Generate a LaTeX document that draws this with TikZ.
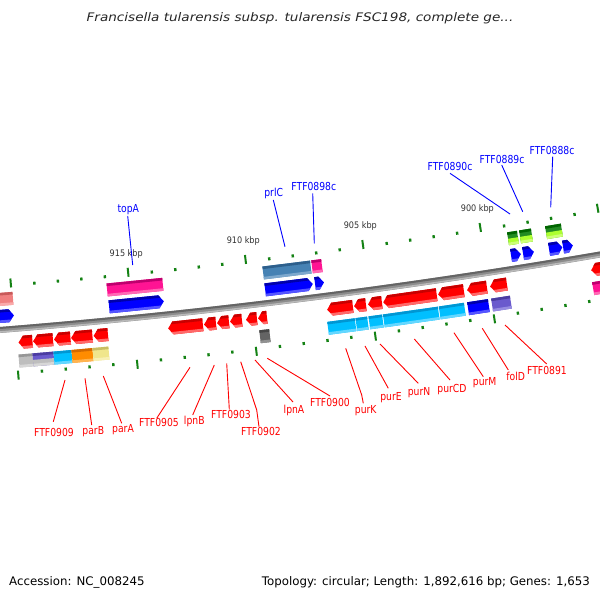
\documentclass[tikz,border=0pt]{standalone}
\usepackage{fontspec}
\setmainfont{DejaVu Sans}
\newfontfamily\labfont[FakeStretch=0.84]{DejaVu Sans}
\newfontfamily\kbpfont[FakeStretch=0.9]{DejaVu Sans}
\newfontfamily\titfont[FakeStretch=1.15]{DejaVu Sans}
\definecolor{crM}{RGB}{255,0,0}\definecolor{crD}{RGB}{200,0,0}\definecolor{crL}{RGB}{255,105,105}
\definecolor{cbM}{RGB}{0,0,255}\definecolor{cbD}{RGB}{0,0,170}\definecolor{cbL}{RGB}{85,85,255}
\definecolor{cpM}{RGB}{255,20,147}\definecolor{cpD}{RGB}{190,0,110}\definecolor{cpL}{RGB}{255,105,180}
\definecolor{csM}{RGB}{70,130,180}\definecolor{csD}{RGB}{45,95,140}\definecolor{csL}{RGB}{125,168,205}
\definecolor{cgtM}{RGB}{34,139,34}\definecolor{cgtD}{RGB}{0,100,0}\definecolor{cgtL}{RGB}{80,160,60}
\definecolor{cgbM}{RGB}{173,255,47}\definecolor{cgbD}{RGB}{140,210,40}\definecolor{cgbL}{RGB}{205,255,120}
\definecolor{cyM}{RGB}{0,191,255}\definecolor{cyD}{RGB}{0,150,210}\definecolor{cyL}{RGB}{100,215,255}
\definecolor{coM}{RGB}{255,140,0}\definecolor{coD}{RGB}{210,105,0}\definecolor{coL}{RGB}{255,180,80}
\definecolor{ckM}{RGB}{240,230,140}\definecolor{ckD}{RGB}{200,190,100}\definecolor{ckL}{RGB}{248,240,180}
\definecolor{cvM}{RGB}{106,90,205}\definecolor{cvD}{RGB}{75,60,160}\definecolor{cvL}{RGB}{150,140,225}
\definecolor{cgM}{RGB}{190,190,190}\definecolor{cgD}{RGB}{150,150,150}\definecolor{cgL}{RGB}{215,215,215}
\definecolor{cdgM}{RGB}{100,100,100}\definecolor{cdgD}{RGB}{70,70,70}\definecolor{cdgL}{RGB}{145,145,145}
\definecolor{csalM}{RGB}{240,128,128}\definecolor{csalD}{RGB}{200,90,90}\definecolor{csalL}{RGB}{250,170,170}
\definecolor{tickc}{RGB}{20,130,20}
\definecolor{labred}{RGB}{255,0,0}
\definecolor{labblue}{RGB}{0,0,255}
\definecolor{kbpgray}{RGB}{50,50,50}
\definecolor{bbM}{RGB}{140,140,140}\definecolor{bbD}{RGB}{100,100,100}\definecolor{bbL}{RGB}{185,185,185}
% feature: x1, x2, offset, type (0 box,1 fwd,2 rev,3 split box), colour, lower colour
\newcommand\feat[6]{%
 \pgfmathsetmacro\fxc{(#1+#2)/2}%
 \pgfmathsetmacro\fth{atan(0.08+0.00015*\fxc)}%
 \pgfmathsetmacro\fs{\fxc+(#3)*sin(\fth)}%
 \pgfmathsetmacro\fth{atan(0.08+0.00015*\fs)}%
 \pgfmathsetmacro\fY{270+0.08*\fs+0.000075*\fs*\fs}%
 \pgfmathsetmacro\fw{(#2-#1)/2}%
 \pgfmathsetmacro\fa{min(5,\fw*1.2)}%
 \pgfmathsetmacro\fva{#3-6.5}\pgfmathsetmacro\fvb{#3+6.5}%
 \pgfmathsetmacro\fvd{#3+3.9}\pgfmathsetmacro\fvl{#3-3.9}%
 \begin{scope}[shift={(\fs,\fY)},rotate=\fth]
  \ifcase #4\relax
   \clip (-\fw,\fva) rectangle (\fw,\fvb);
  \or
   \clip (-\fw,\fva) -- (\fw-\fa,\fva) -- (\fw,#3) -- (\fw-\fa,\fvb) -- (-\fw,\fvb) -- cycle;
  \or
   \clip (\fw,\fva) -- (-\fw+\fa,\fva) -- (-\fw,#3) -- (-\fw+\fa,\fvb) -- (\fw,\fvb) -- cycle;
  \or
   \clip (-\fw,\fva) rectangle (\fw,\fvb);
  \fi
  \fill[#5M] (-\fw-1,\fva-1) rectangle (\fw+1,\fvb+1);
  \ifnum #4=3\relax
   \fill[#6M] (-\fw-1,\fva-1) rectangle (\fw+1,#3);
   \fill[#6L] (-\fw-1,\fva-1) rectangle (\fw+1,\fvl);
  \else
   \fill[#5L] (-\fw-1,\fva-1) rectangle (\fw+1,\fvl);
  \fi
  \fill[#5D] (-\fw-1,\fvd) rectangle (\fw+1,\fvb+1);
 \end{scope}}
\tikzset{
 glabel/.style={font=\labfont\fontsize{11}{12}\selectfont, text height=8pt, text depth=0pt, inner sep=0pt, anchor=center},
 redlab/.style={glabel, text=labred},
 bluelab/.style={glabel, text=labblue},
 redcon/.style={draw=labred, line width=0.9pt},
 bluecon/.style={draw=labblue, line width=0.9pt},
 kbp/.style={font=\kbpfont\fontsize{9}{10}\selectfont, text=kbpgray, inner sep=0pt, text height=6.5pt, text depth=0pt},
 foot/.style={font=\fontsize{11.8}{13}\selectfont, text=black, inner sep=0pt, text height=8.5pt, text depth=0pt},
}
\begin{document}
\begin{tikzpicture}[x=1pt,y=1pt]
\useasboundingbox (0,0) rectangle (600,600);
\fill[white] (0,0) rectangle (600,600);
\clip (0,0) rectangle (600,600);
% backbone
\draw[line width=6pt, bbM] plot[domain=-20:620,samples=60] (\x,{270+0.08*\x+0.000075*\x*\x});
\draw[line width=2pt, bbD] plot[domain=-20:620,samples=60] (\x,{272+0.08*\x+0.000075*\x*\x});
\draw[line width=1.6pt, bbL] plot[domain=-20:620,samples=60] (\x,{268+0.08*\x+0.000075*\x*\x});
% ticks
\foreach \k in {0,...,25}{%
  \pgfmathsetmacro\ts{14.5+23.64*\k}%
  \pgfmathsetmacro\tth{atan(0.08+0.00015*\ts)}%
  \pgfmathsetmacro\tY{270+0.08*\ts+0.000075*\ts*\ts}%
  \pgfmathtruncatemacro\tm{mod(\k,5)}%
  \begin{scope}[shift={(\ts,\tY)},rotate=\tth]
    \ifnum\tm=0
      \fill[tickc] (-1,41.5) rectangle (1,50.5);
      \fill[tickc] (-1,-42) rectangle (1,-51);
    \else
      \fill[tickc] (-1.2,42.3) rectangle (1.2,45.3);
      \fill[tickc] (-1.2,-43) rectangle (1.2,-46);
    \fi
  \end{scope}}
\foreach \k/\lab in {5/915,10/910,15/905,20/900}{%
  \pgfmathsetmacro\ts{14.5+23.64*\k}%
  \pgfmathsetmacro\tth{atan(0.08+0.00015*\ts)}%
  \pgfmathsetmacro\tY{270+0.08*\ts+0.000075*\ts*\ts}%
  \node[kbp] (kbp\lab) at ({\ts-65*sin(\tth)},{\tY+65*cos(\tth)}) {\lab{} kbp};}
% forward strand CDS (blue arrows)
\feat{-10}{14}{13.5}{1}{cb}{cb}
\feat{109}{164}{13.5}{1}{cb}{cb}
\feat{265}{313}{13.5}{1}{cb}{cb}
\feat{315}{324}{13.5}{1}{cb}{cb}
\feat{511}{521}{13.5}{1}{cb}{cb}
\feat{523}{534}{13.5}{1}{cb}{cb}
\feat{549}{562.5}{13.5}{1}{cb}{cb}
\feat{563}{573}{13.5}{1}{cb}{cb}
% forward strand COG boxes
\feat{-10}{13}{30.5}{0}{csal}{csal}
\feat{107}{163}{30.5}{0}{cp}{cp}
\feat{263}{311}{30.5}{0}{cs}{cs}
\feat{312}{322}{30.5}{0}{cp}{cp}
\feat{508}{518}{30.5}{3}{cgt}{cgb}
\feat{520}{532}{30.5}{3}{cgt}{cgb}
\feat{546}{562}{30.5}{3}{cgt}{cgb}
% reverse strand CDS (red arrows)
\feat{18.5}{32.5}{-14}{2}{cr}{cr}
\feat{33}{53}{-14}{2}{cr}{cr}
\feat{54}{70.5}{-14}{2}{cr}{cr}
\feat{71}{92.5}{-14}{2}{cr}{cr}
\feat{93.5}{108}{-14}{2}{cr}{cr}
\feat{168}{203}{-14}{2}{cr}{cr}
\feat{204}{216}{-14}{2}{cr}{cr}
\feat{217}{229}{-14}{2}{cr}{cr}
\feat{230}{242}{-14}{2}{cr}{cr}
\feat{246}{257}{-14}{2}{cr}{cr}
\feat{258}{267}{-14}{2}{cr}{cr}
\feat{327}{353}{-14}{2}{cr}{cr}
\feat{354}{366}{-14}{2}{cr}{cr}
\feat{368}{382}{-14}{2}{cr}{cr}
\feat{383}{437}{-14}{2}{cr}{cr}
\feat{438}{464}{-14}{2}{cr}{cr}
\feat{467}{487}{-14}{2}{cr}{cr}
\feat{490}{507}{-14}{2}{cr}{cr}
\feat{591}{620}{-14}{2}{cr}{cr}
% reverse strand COG boxes
\feat{19}{33}{-32.5}{0}{cg}{cg}
\feat{33}{54}{-32.5}{3}{cv}{cg}
\feat{54}{72}{-32.5}{0}{cy}{cy}
\feat{72}{93}{-32.5}{0}{co}{co}
\feat{93}{109}{-32.5}{0}{ck}{ck}
\feat{260}{270}{-32.5}{0}{cdg}{cdg}
\feat{328}{355.7}{-32.5}{0}{cy}{cy}
\feat{356.3}{368}{-32.5}{0}{cy}{cy}
\feat{369.3}{383}{-32.5}{0}{cy}{cy}
\feat{383.6}{439}{-32.5}{0}{cy}{cy}
\feat{439.6}{465}{-32.5}{0}{cy}{cy}
\feat{468}{489}{-32.5}{0}{cb}{cb}
\feat{492}{511}{-32.5}{0}{cv}{cv}
\feat{593}{620}{-32.5}{0}{cp}{cp}
% lower labels
\node[redlab] (lFTF0909) at (54,167.3) {FTF0909};
\node[redlab] (lparB) at (93.3,169) {parB};
\node[redlab] (lparA) at (123,171.7) {parA};
\node[redlab] (lFTF0905) at (159,177.3) {FTF0905};
\node[redlab] (llpnB) at (194.3,179) {lpnB};
\node[redlab] (lFTF0903) at (231,185) {FTF0903};
\node[redlab] (lFTF0902) at (261,168.3) {FTF0902};
\node[redlab] (llpnA) at (294,190.7) {lpnA};
\node[redlab] (lFTF0900) at (330,197.3) {FTF0900};
\node[redlab] (lpurK) at (365.7,190) {purK};
\node[redlab] (lpurE) at (391,203.3) {purE};
\node[redlab] (lpurN) at (419,208.3) {purN};
\node[redlab] (lpurCD) at (452,211.7) {purCD};
\node[redlab] (lpurM) at (484.7,218.3) {purM};
\node[redlab] (lfolD) at (515.7,223.3) {folD};
\node[redlab] (lFTF0891) at (547,229) {FTF0891};
\coordinate (s1) at (65,220);      \coordinate (e1) at (53.3,178.3);
\coordinate (s2) at (85,221.7);    \coordinate (e2) at (91.7,175);
\coordinate (s3) at (103.3,224);   \coordinate (e3) at (121.7,176.7);
\coordinate (s4) at (190,232.7);   \coordinate (e4) at (156.7,181.7);
\coordinate (s5) at (214.3,235);   \coordinate (e5) at (192.7,185);
\coordinate (s6) at (226.7,236.7); \coordinate (e6) at (229.3,190.7);
\coordinate (s7) at (240.7,238.3); \coordinate (m7) at (256.7,190); \coordinate (e7) at (259,173.3);
\coordinate (s8) at (255,240);     \coordinate (e8) at (293,198);
\coordinate (s9) at (267.3,241.7); \coordinate (e9) at (330,204);
\coordinate (s10) at (345.7,251.7);\coordinate (m10) at (361.7,205); \coordinate (e10) at (363.3,196.7);
\coordinate (s11) at (365,254);    \coordinate (e11) at (388.3,211.7);
\coordinate (s12) at (380,256);    \coordinate (e12) at (418.3,216.7);
\coordinate (s13) at (414.3,261);  \coordinate (e13) at (450,220);
\coordinate (s14) at (454,267.3);  \coordinate (e14) at (483.3,223.3);
\coordinate (s15) at (482.3,271.7);\coordinate (e15) at (508.3,230);
\coordinate (s16) at (505,275);    \coordinate (e16) at (546.7,236);
\foreach \i in {1,2,3,4,5,6,8,9,11,12,13,14,15,16}{\draw[redcon] (s\i) -- (e\i);}
\draw[redcon] (s7) -- (m7) -- (e7);
\draw[redcon] (s10) -- (m10) -- (e10);
% upper labels
\node[bluelab] (ltopA) at (128.3,391.7) {topA};
\node[bluelab] (lprlC) at (273.7,407.3) {prlC};
\node[bluelab] (lFTF0898c) at (313.8,413.3) {FTF0898c};
\node[bluelab] (lFTF0890c) at (450,433.3) {FTF0890c};
\node[bluelab] (lFTF0889c) at (502,440.7) {FTF0889c};
\node[bluelab] (lFTF0888c) at (552,449.3) {FTF0888c};
\coordinate (t1) at (132.7,335);   \coordinate (u1) at (127.7,384);
\coordinate (t2) at (285,353.3);   \coordinate (u2) at (273.3,400);
\coordinate (t3) at (314.3,356.7); \coordinate (u3) at (312.7,406.7);
\coordinate (t4) at (510,386);     \coordinate (u4) at (450,426.7);
\coordinate (t5) at (522.7,388.3); \coordinate (u5) at (501.7,435);
\coordinate (t6) at (550.7,392.7); \coordinate (u6) at (552.7,443.3);
\foreach \i in {1,...,6}{\draw[bluecon] (t\i) -- (u\i);}
% title and footer
\node[inner sep=0pt, text=black!85, font=\titfont\itshape\fontsize{11.8}{13}\selectfont] (title) at (300,582) {Francisella tularensis subsp. tularensis FSC198, complete ge...};
\node[foot, anchor=west] (acc) at (9,19) {Accession: NC\_008245};
\node[foot, anchor=east] (topo) at (590,19) {Topology: circular; Length: 1,892,616 bp; Genes: 1,653};
\end{tikzpicture}
\end{document}
